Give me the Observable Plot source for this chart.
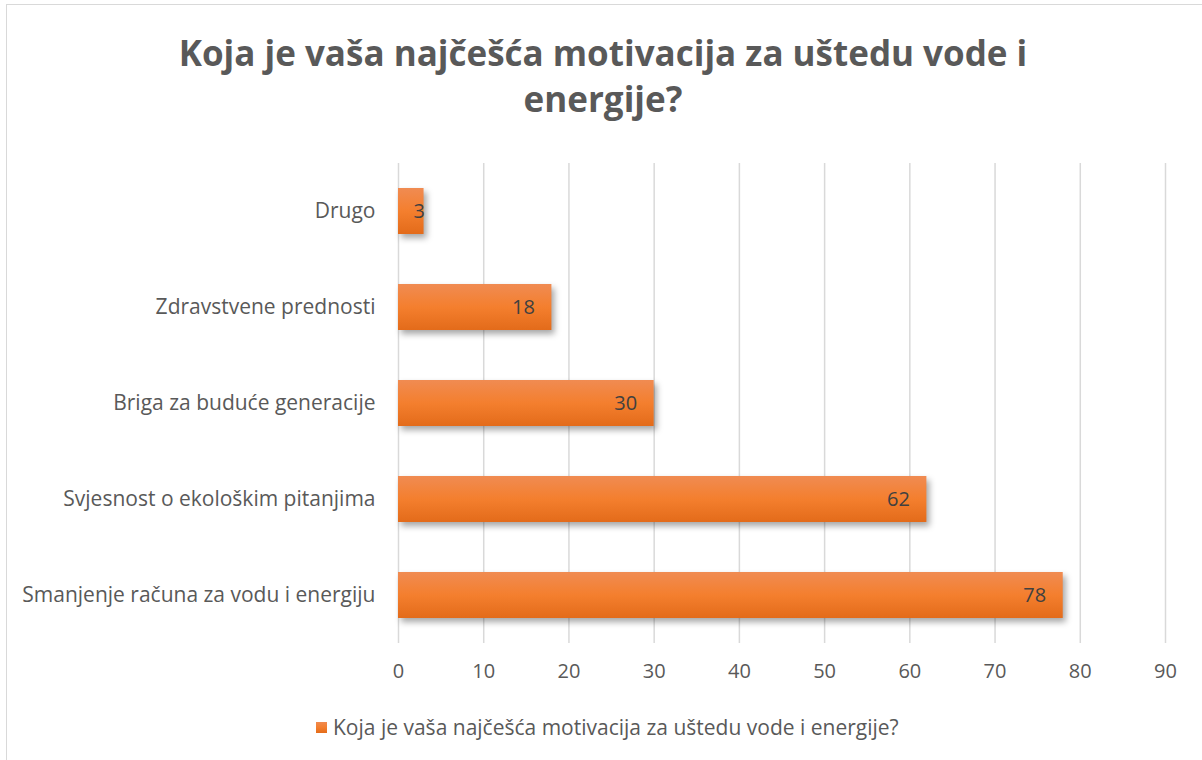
<!DOCTYPE html>
<html>
<head>
<meta charset="utf-8">
<script src="https://cdn.jsdelivr.net/npm/d3@7"></script>
<script src="https://cdn.jsdelivr.net/npm/@observablehq/plot@0.6"></script>
<style>
  body { margin: 0; background: #fff; font-family: "Open Sans", sans-serif; }
  #frame { position: relative; width: 1202px; height: 760px; overflow: hidden; }
  #border { position: absolute; left: 6px; top: 4px; width: 1200px; height: 760px; border: 1px solid #d9d9d9; box-sizing: border-box; }
  #title { position: absolute; left: 0; width: 1206px; top: 30px; text-align: center; font-weight: bold; font-size: 35px; line-height: 46px; color: #595959; }
  #chart { position: absolute; left: 0; top: 140px; }
  #legend { position: absolute; left: 316px; top: 713px; font-size: 21px; color: #595959; display: flex; align-items: center; }
  #legend .sw { width: 11px; height: 11px; background: linear-gradient(#f08a4f, #f37e2e 50%, #e46c1a); margin-right: 6px; }
</style>
</head>
<body>
<div id="frame">
  <div id="border"></div>
  <div id="title">Koja je vaša najčešća motivacija za uštedu vode i<br>energije?</div>
  <div id="chart"></div>
  <div id="legend"><div class="sw"></div><span>Koja je vaša najčešća motivacija za uštedu vode i energije?</span></div>
</div>
<script>
const categories = ["Drugo", "Zdravstvene prednosti", "Briga za buduće generacije", "Svjesnost o ekološkim pitanjima", "Smanjenje računa za vodu i energiju"];
const values = [3, 18, 30, 62, 78];
const xTicks = [0, 10, 20, 30, 40, 50, 60, 70, 80, 90];

const data = categories.map((c, i) => ({category: c, value: values[i]}));

const plot = Plot.plot({
  width: 1202,
  height: 560,
  marginLeft: 398,
  marginRight: 37,
  marginTop: 23,
  marginBottom: 57,
  style: {fontFamily: "'Open Sans', sans-serif", fontSize: "20px", color: "#595959", background: "transparent"},
  x: {domain: [0, 90], ticks: xTicks, label: null},
  y: {domain: categories, paddingInner: 0.52, paddingOuter: 0.26, label: null},
  marks: [
    Plot.gridX(xTicks, {stroke: "#d9d9d9", strokeOpacity: 1, strokeWidth: 1.5}),
    Plot.axisX({ticks: xTicks, tickSize: 0, tickPadding: 20, fill: "#595959", label: null, fontSize: 20}),
    Plot.axisY({tickSize: 0, tickPadding: 23, fill: "#595959", label: null, fontSize: 21}),
    Plot.barX(data, {x: "value", y: "category", fill: "url(#barGrad)"}),
    Plot.text(data.filter(d => d.value >= 10), {x: "value", y: "category", text: d => String(d.value), textAnchor: "end", dx: -17, fill: "#404040", fontSize: 20}),
    Plot.text(data.filter(d => d.value < 10), {x: 0, y: "category", text: d => String(d.value), textAnchor: "start", dx: 15, fill: "#404040", fontSize: 20})
  ]
});

const svg = d3.select(plot);
const defs = svg.insert("defs", ":first-child");
const g = defs.append("linearGradient").attr("id", "barGrad").attr("x1", 0).attr("y1", 0).attr("x2", 0).attr("y2", 1);
g.append("stop").attr("offset", "0%").attr("stop-color", "#f08b52");
g.append("stop").attr("offset", "50%").attr("stop-color", "#f47f2e");
g.append("stop").attr("offset", "100%").attr("stop-color", "#e36b1a");
svg.selectAll("[aria-label='bar'] rect").style("filter", "drop-shadow(3px 4px 3px rgba(0,0,0,0.35))");

document.getElementById("chart").appendChild(plot);
</script>
</body>
</html>
